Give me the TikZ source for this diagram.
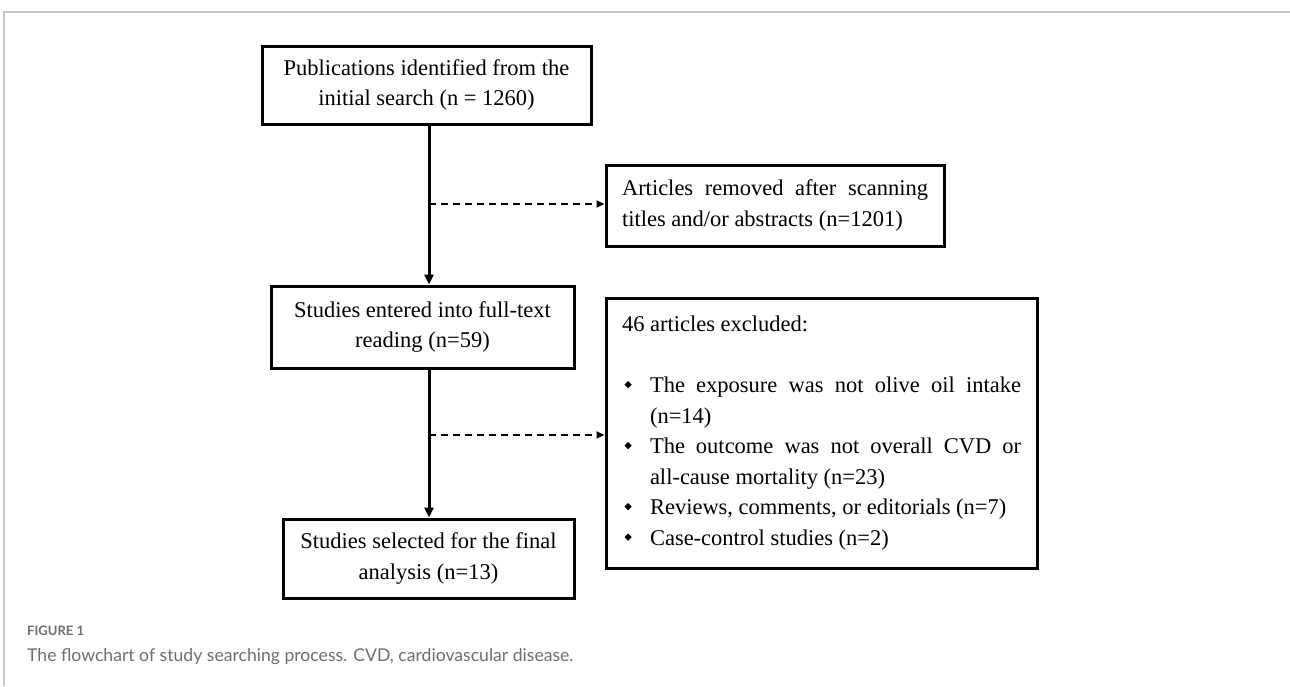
\documentclass[tikz,border=0pt]{standalone}
\usepackage{fontspec}
\setmainfont{Liberation Serif}
\newfontfamily\capfont{Lato}
\newcommand\pal{\rmfamily}
\usetikzlibrary{arrows.meta}
\definecolor{framegray}{HTML}{C8C8C8}
\definecolor{capgray}{HTML}{6E6E6E}
\newcommand\bul{\makebox[28pt][l]{\hspace{2.5pt}\tikz[baseline=0pt]\fill (0pt,8pt) -- (3.6pt,11.6pt) -- (7.2pt,8pt) -- (3.6pt,4.4pt) -- cycle;}}
\newcommand\boxfont{\pal\fontsize{22.5}{30.5}\selectfont}
\tikzset{
  boxnode/.style={draw, line width=3pt, inner sep=0pt, font=\boxfont, align=center},
  solidarrow/.style={line width=3pt, -{Triangle[length=10pt,width=9pt]}},
  dasharrow/.style={line width=1.8pt, dash pattern=on 7pt off 5pt, -{Triangle[length=8pt,width=7pt]}},
  captext/.style={anchor=base west, inner sep=0pt, text=capgray}
}
\begin{document}
\begin{tikzpicture}[x=1pt,y=1pt]
\useasboundingbox (0,0) rectangle (1290,-686);
\draw[framegray, line width=1.3pt] (4,-686) -- (4,-12) -- (1290,-12);

\node[boxnode, minimum width=329pt, minimum height=78pt] (b1) at (426.5,-85)
  {Publications identified from the\\initial search (n = 1260)};
\node[boxnode, minimum width=338pt, minimum height=81pt] (b2) at (775,-205.5)
  {\parbox{306pt}{\boxfont Articles removed after scanning\linebreak titles and/or abstracts (n=1201)}};
\node[boxnode, minimum width=303pt, minimum height=82pt] (b3) at (422.5,-327)
  {Studies entered into full-text\\reading (n=59)};
\node[boxnode, minimum width=431pt, minimum height=270pt] (b4) at (821.5,-433)
  {\parbox{399pt}{\boxfont
   \noindent 46 articles excluded:\par
   \vspace{30.5pt}
   \hangindent=28pt\hangafter=1\noindent\bul The exposure was not olive oil intake\linebreak (n=14)\par
   \hangindent=28pt\hangafter=1\noindent\bul The outcome was not overall CVD or\linebreak all-cause mortality (n=23)\par
   \hangindent=28pt\hangafter=1\noindent\bul Reviews, comments, or editorials (n=7)\par
   \hangindent=28pt\hangafter=1\noindent\bul Case-control studies (n=2)\par}};
\node[boxnode, minimum width=291pt, minimum height=79pt] (b5) at (428.5,-558.5)
  {Studies selected for the final\\analysis (n=13)};

\coordinate (sp) at (429,0);
\coordinate (d1) at (429,-204);
\coordinate (d2) at (429,-435);
\draw[solidarrow] (b1.south -| sp) -- (b3.north -| sp);
\draw[solidarrow] (b3.south -| sp) -- (b5.north -| sp);
\draw[dasharrow] (d1) -- (d1 -| b2.west);
\draw[dasharrow] (d2) -- (d2 -| b4.west);

\node[captext, font=\capfont\bfseries\fontsize{13}{15}\selectfont] (f1) at (27,-635) {FIGURE 1};
\node[captext, font=\capfont\fontsize{17.6}{20}\selectfont] (f2) at (27,-661) {The flowchart of study searching process. CVD, cardiovascular disease.};
\end{tikzpicture}
\end{document}
